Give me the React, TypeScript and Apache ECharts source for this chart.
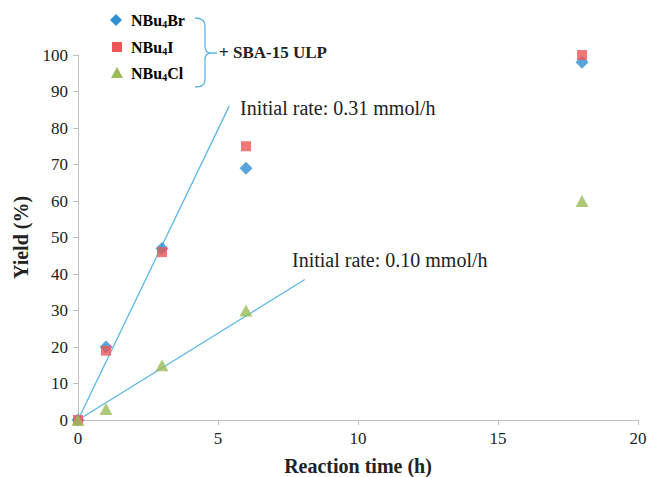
import React, { useEffect, useRef } from "react";
import * as echarts from "echarts";

const times = [0, 1, 3, 6, 18];
const brYield = [0, 20, 47, 69, 98];
const iYield = [0, 19, 46, 75, 100];
const clYield = [0, 3, 15, 30, 60];
const fastFit: [number, number][] = [[0, 0], [5.4, 86]];
const slowFit: [number, number][] = [[0, 0], [8.1, 38.5]];
const xTicks = { min: 0, max: 20, interval: 5 };
const yTicks = { min: 0, max: 100, interval: 10 };

const SERIF = "'Liberation Serif', 'Times New Roman', serif";
const BLUE = "#2E8FD3";
const RED = "#EF5656";
const GREEN = "#9BBB59";
const LINE = "#5DB7E6";

const pairs = (ys: number[]) => times.map((t, i) => [t, ys[i]]);

echarts.graphic.registerShape(
  "brace",
  echarts.graphic.extendPath(
    "M195,18 Q205,18 205,26 L205,46 Q205,53 211,53 Q205,53 205,60 L205,80 Q205,87 195,87 M211,53 L217,53",
    {}
  )
);

export default function App() {
  const ref = useRef<HTMLDivElement>(null);
  useEffect(() => {
    if (!ref.current) return;
    const chart = echarts.init(ref.current, undefined, { renderer: "svg" });
    const labelRich = {
      b: { fontFamily: SERIF, fontWeight: "bold", fontSize: 16, color: "#222", lineHeight: 18, verticalAlign: "middle" },
      s: { fontFamily: SERIF, fontWeight: "bold", fontSize: 10, color: "#222", lineHeight: 18, padding: [8, 0, 0, 0] },
    } as any;
    const legendRow = (y: number, name: string, suffix: string) => ({
      type: "text",
      left: 131,
      top: y - 9,
      style: { text: `{b|${name}}{s|4}{b|${suffix}}`, rich: labelRich },
    });
    chart.setOption({
      animation: false,
      backgroundColor: "#fff",
      grid: { left: 78, right: 15, top: 55, bottom: 57, outerBoundsMode: "none", containLabel: false },
      xAxis: {
        type: "value",
        ...xTicks,
        name: "Reaction time (h)",
        nameLocation: "middle",
        nameGap: 36,
        nameTextStyle: { fontFamily: SERIF, fontWeight: "bold", fontSize: 20, color: "#222" },
        axisLine: { show: true, lineStyle: { color: "#BFBFBF" } },
        axisTick: { show: true, length: 5, lineStyle: { color: "#BFBFBF" } },
        axisLabel: { fontFamily: SERIF, fontSize: 17, color: "#222", margin: 10 },
        splitLine: { show: false },
      },
      yAxis: {
        type: "value",
        ...yTicks,
        name: "Yield (%)",
        nameLocation: "middle",
        nameGap: 47,
        nameTextStyle: { fontFamily: SERIF, fontWeight: "bold", fontSize: 20, color: "#222" },
        axisLine: { show: true, lineStyle: { color: "#BFBFBF" } },
        axisTick: { show: true, length: 5, lineStyle: { color: "#BFBFBF" } },
        axisLabel: { fontFamily: SERIF, fontSize: 17, color: "#222", margin: 10 },
        splitLine: { show: false },
      },
      series: [
        {
          type: "line",
          data: fastFit,
          showSymbol: false,
          lineStyle: { color: LINE, width: 1.3 },
          z: 1,
        },
        {
          type: "line",
          data: slowFit,
          showSymbol: false,
          lineStyle: { color: LINE, width: 1.3 },
          z: 1,
        },
        {
          name: "NBu4Br",
          type: "scatter",
          data: pairs(brYield),
          symbol: "diamond",
          symbolSize: [13, 13],
          itemStyle: { color: BLUE },
          z: 3,
        },
        {
          name: "NBu4I",
          type: "scatter",
          data: pairs(iYield),
          symbol: "rect",
          symbolSize: 10,
          itemStyle: { color: RED },
          z: 4,
        },
        {
          name: "NBu4Cl",
          type: "scatter",
          data: pairs(clYield),
          symbol: "triangle",
          symbolSize: [13, 12],
          itemStyle: { color: GREEN },
          z: 5,
        },
      ],
      graphic: [
        {
          type: "polygon",
          shape: { points: [[116, 14], [122, 20], [116, 26], [110, 20]] },
          style: { fill: BLUE },
        },
        {
          type: "rect",
          shape: { x: 112, y: 42, width: 10, height: 10 },
          style: { fill: RED },
        },
        {
          type: "polygon",
          shape: { points: [[117, 67], [123, 78], [111, 78]] },
          style: { fill: GREEN },
        },
        legendRow(20, "NBu", "Br"),
        legendRow(47, "NBu", "I"),
        legendRow(73, "NBu", "Cl"),
        {
          type: "brace",
          x: 0,
          y: 0,
          style: { stroke: LINE, fill: null, lineWidth: 1.3 },
        },
        {
          type: "text",
          left: 219,
          top: 44,
          style: { text: "+ SBA-15 ULP", fontFamily: SERIF, fontWeight: "bold", fontSize: 17, fill: "#222" },
        },
        {
          type: "text",
          left: 240,
          top: 98,
          style: { text: "Initial rate: 0.31 mmol/h", fontFamily: SERIF, fontSize: 20, fill: "#222" },
        },
        {
          type: "text",
          left: 292,
          top: 250,
          style: { text: "Initial rate: 0.10 mmol/h", fontFamily: SERIF, fontSize: 20, fill: "#222" },
        },
      ],
    });
    return () => chart.dispose();
  }, []);
  return (
    <div
      ref={ref}
      style={{ position: "fixed", left: 0, top: 0, width: 653, height: 477 }}
    />
  );
}
